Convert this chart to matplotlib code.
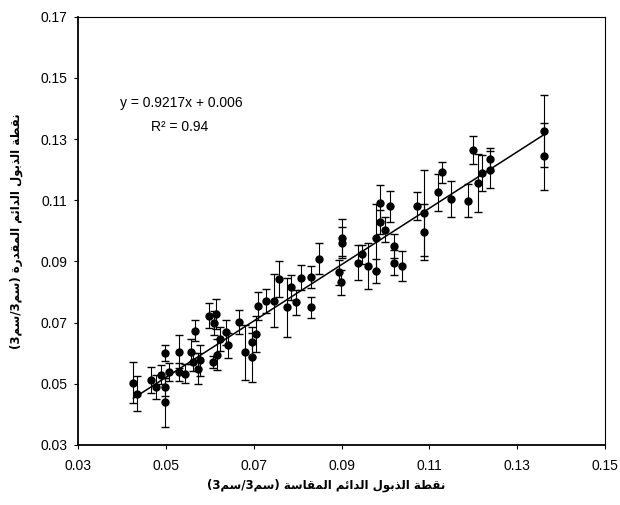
import matplotlib
matplotlib.use('Agg')
import matplotlib.pyplot as plt
import numpy as np

measured = [0.0426, 0.0435, 0.0466, 0.0478, 0.0489, 0.0498, 0.0498, 0.0498, 0.0507, 0.0529,
            0.0529, 0.0543, 0.0556, 0.0561, 0.0567, 0.0574, 0.0577, 0.0597, 0.0607, 0.0610,
            0.0615, 0.0616, 0.0624, 0.0637, 0.0642, 0.0667, 0.0679, 0.0696, 0.0697, 0.0706,
            0.0709, 0.0727, 0.0745, 0.0758, 0.0776, 0.0785, 0.0796, 0.0808, 0.0830, 0.0830,
            0.0848, 0.0893, 0.0898, 0.0900, 0.0900, 0.0938, 0.0947, 0.0959, 0.0979, 0.0979,
            0.0988, 0.0988, 0.0999, 0.1010, 0.1019, 0.1019, 0.1037, 0.1071, 0.1088, 0.1088,
            0.1120, 0.1129, 0.1149, 0.1188, 0.1199, 0.1211, 0.1219, 0.1239, 0.1239, 0.1361,
            0.1361]
estimated = [0.0504, 0.0468, 0.0513, 0.0489, 0.0530, 0.0600, 0.0490, 0.0439, 0.0538, 0.0605,
             0.0538, 0.0533, 0.0605, 0.0571, 0.0674, 0.0549, 0.0576, 0.0723, 0.0571, 0.0698,
             0.0728, 0.0595, 0.0647, 0.0668, 0.0625, 0.0701, 0.0603, 0.0636, 0.0587, 0.0663,
             0.0755, 0.0771, 0.0771, 0.0842, 0.0750, 0.0815, 0.0766, 0.0847, 0.0849, 0.0750,
             0.0909, 0.0864, 0.0831, 0.0977, 0.0961, 0.0896, 0.0923, 0.0885, 0.0869, 0.0977,
             0.1091, 0.1028, 0.1004, 0.1080, 0.0950, 0.0896, 0.0885, 0.1080, 0.0996, 0.1059,
             0.1126, 0.1191, 0.1104, 0.1098, 0.1264, 0.1156, 0.1189, 0.1234, 0.1200, 0.1326,
             0.1243]
errors = [0.0068, 0.0057, 0.0043, 0.0038, 0.0032, 0.0025, 0.0030, 0.0080, 0.0030, 0.0054,
          0.0030, 0.0030, 0.0040, 0.0030, 0.0035, 0.0050, 0.0050, 0.0040, 0.0020, 0.0040,
          0.0050, 0.0050, 0.0040, 0.0040, 0.0040, 0.0040, 0.0090, 0.0050, 0.0080, 0.0060,
          0.0046, 0.0040, 0.0087, 0.0060, 0.0097, 0.0040, 0.0040, 0.0040, 0.0035, 0.0035,
          0.0050, 0.0040, 0.0040, 0.0060, 0.0050, 0.0057, 0.0030, 0.0075, 0.0040, 0.0110,
          0.0060, 0.0040, 0.0040, 0.0050, 0.0040, 0.0040, 0.0050, 0.0046, 0.0090, 0.0140,
          0.0060, 0.0035, 0.0060, 0.0054, 0.0046, 0.0095, 0.0060, 0.0038, 0.0060, 0.0117,
          0.0110]

slope = 0.9217
intercept = 0.006
r_squared = 0.94

x_ticks = [0.03, 0.05, 0.07, 0.09, 0.11, 0.13, 0.15]
y_ticks = [0.03, 0.05, 0.07, 0.09, 0.11, 0.13, 0.15, 0.17]

x_label = 'نقطة الذبول الدائم المقاسة (سم3/سم3)'
y_label = 'نقطة الذبول الدائم المقدرة (سم3/سم3)'

# presentation forms: isolated, final, initial, medial
FORMS = {
    'ا': (0xFE8D, 0xFE8E, None, None),
    'ب': (0xFE8F, 0xFE90, 0xFE91, 0xFE92),
    'ة': (0xFE93, 0xFE94, None, None),
    'د': (0xFEA9, 0xFEAA, None, None),
    'ذ': (0xFEAB, 0xFEAC, None, None),
    'ر': (0xFEAD, 0xFEAE, None, None),
    'س': (0xFEB1, 0xFEB2, 0xFEB3, 0xFEB4),
    'ط': (0xFEC1, 0xFEC2, 0xFEC3, 0xFEC4),
    'ق': (0xFED5, 0xFED6, 0xFED7, 0xFED8),
    'ل': (0xFEDD, 0xFEDE, 0xFEDF, 0xFEE0),
    'م': (0xFEE1, 0xFEE2, 0xFEE3, 0xFEE4),
    'ن': (0xFEE5, 0xFEE6, 0xFEE7, 0xFEE8),
    'و': (0xFEED, 0xFEEE, None, None),
    'ئ': (0xFE89, 0xFE8A, 0xFE8B, 0xFE8C),
}


def shape(text):
    out = []
    for i, c in enumerate(text):
        if c not in FORMS:
            out.append(c)
            continue
        prev = text[i - 1] if i > 0 else ''
        nxt = text[i + 1] if i + 1 < len(text) else ''
        join_prev = prev in FORMS and FORMS[prev][2] is not None
        join_next = nxt in FORMS and FORMS[c][2] is not None
        iso, fin, ini, med = FORMS[c]
        if join_prev and join_next:
            out.append(chr(med))
        elif join_prev:
            out.append(chr(fin))
        elif join_next:
            out.append(chr(ini))
        else:
            out.append(chr(iso))
    visual = ''.join(reversed(out))
    return visual.translate(str.maketrans('()', ')('))


plt.rcParams['font.family'] = ['Liberation Sans', 'DejaVu Sans']

fig = plt.figure(figsize=(6.2, 5.05), dpi=100)
ax = fig.add_axes([0.126, 0.119, 0.850, 0.848])

ax.errorbar(measured, estimated, yerr=errors, fmt='o', color='black', ms=5,
            ecolor='black', elinewidth=0.8, capsize=3, capthick=1.0)

xs = np.array([min(measured), max(measured)])
ax.plot(xs, slope * xs + intercept, color='black', lw=1.1)

ax.text(0.0535, 0.1419, f'y = {slope}x + {intercept}', ha='center', va='center', fontsize=10)
ax.text(0.0530, 0.1340, f'R² = {r_squared}', ha='center', va='center', fontsize=10)

ax.set_xlim(0.03, 0.15)
ax.set_ylim(0.03, 0.17)
ax.set_xticks(x_ticks)
ax.set_yticks(y_ticks)
ax.set_xticklabels([f'{t:.2f}' for t in x_ticks], fontsize=10)
ax.set_yticklabels([f'{t:.2f}' for t in y_ticks], fontsize=10)
ax.tick_params(direction='out', length=3, width=0.8, top=False, right=False)
ax.tick_params(axis='x', pad=7)
ax.tick_params(axis='y', pad=5)
ax.spines['left'].set_linewidth(1.3)
ax.spines['bottom'].set_linewidth(1.3)
ax.spines['top'].set_linewidth(0.8)
ax.spines['right'].set_linewidth(0.8)

ax.set_xlabel(shape(x_label), family='DejaVu Sans', fontsize=8.5, fontweight='bold',
              labelpad=4, x=0.47)
ax.set_ylabel(shape(y_label), family='DejaVu Sans', fontsize=8.5, fontweight='bold',
              labelpad=12)

fig.savefig('out.png', dpi=100)
